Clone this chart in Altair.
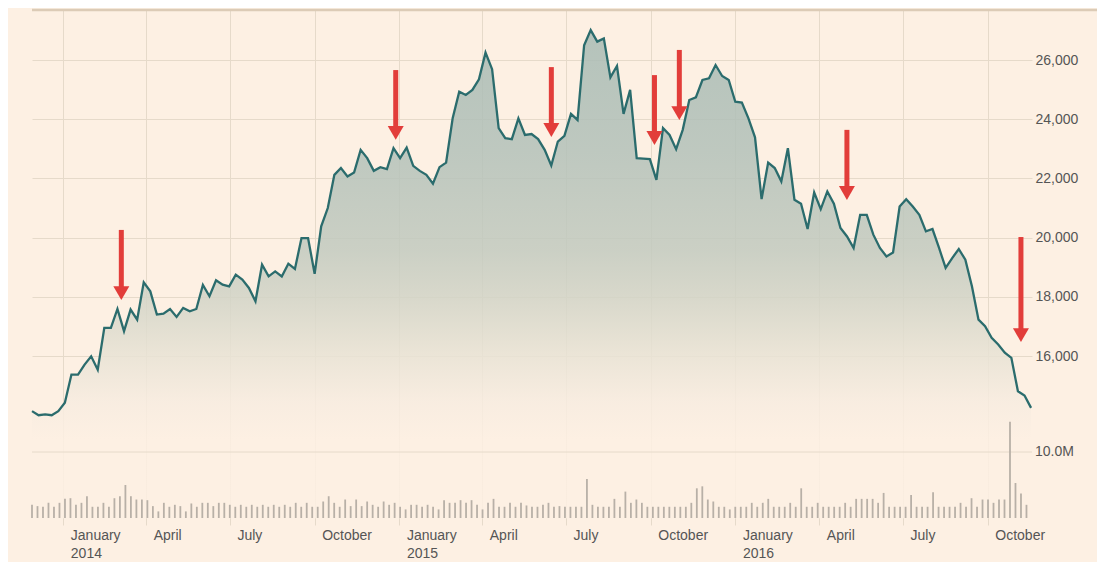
import altair as alt
import pandas as pd

# ---------------- data ----------------
prices = [14140, 14000, 14030, 14000, 14140, 14420, 15375, 15375, 15710, 15990,
          15540, 16950, 16950, 17590, 16840, 17570, 17230, 18490, 18185, 17400,
          17430, 17590, 17320, 17625, 17510, 17590, 18400, 18020, 18560, 18410,
          18355, 18750, 18580, 18300, 17850, 19085, 18690, 18860, 18690, 19120,
          18940, 19985, 19985, 18780, 20380, 21000, 22120, 22350, 22065, 22200,
          22965, 22685, 22255, 22380, 22315, 23020, 22685, 23040, 22425, 22255,
          22120, 21820, 22380, 22535, 24030, 24930, 24820, 24990, 25350, 26250,
          25690, 23700, 23360, 23325, 24030, 23470, 23500, 23330, 22965, 22435,
          23245, 23435, 24180, 23975, 26500, 27010, 26620, 26730, 25415, 25800,
          24180, 24990, 22685, 22670, 22650, 21950, 23700, 23470, 22990, 23640,
          24650, 24740, 25325, 25380, 25830, 25460, 25325, 24590, 24560, 24030,
          23390, 21300, 22535, 22350, 21900, 23020, 21280, 21145, 20290, 21525,
          20965, 21560, 21145, 20325, 20040, 19650, 20770, 20770, 20100, 19650,
          19365, 19500, 21050, 21300, 21050, 20770, 20210, 20290, 19650, 18975,
          19310, 19615, 19255, 18355, 17230, 17005, 16615, 16390, 16110, 15940,
          14810, 14665, 14250]

volumes_m = [2.0, 1.8, 1.7, 2.3, 1.7, 2.3, 2.9, 3.0, 2.0, 2.3, 3.3, 1.7, 1.7, 2.3, 1.7,
             3.0, 3.3, 5.0, 3.3, 2.8, 2.8, 2.7, 1.8, 1.0, 2.3, 1.7, 2.0, 1.8, 1.0, 2.2,
             1.7, 2.3, 2.3, 1.8, 2.3, 2.3, 2.0, 1.7, 2.0, 1.7, 2.0, 1.7, 2.0, 1.7, 2.0,
             1.7, 2.0, 1.7, 2.3, 1.7, 2.3, 1.7, 1.7, 2.5, 3.3, 2.3, 1.7, 2.8, 1.8, 2.8,
             1.8, 2.5, 2.0, 1.7, 2.5, 2.0,
             2.3, 1.7, 1.3, 2.0, 2.0, 1.7, 2.0, 1.7, 1.3, 2.7, 2.3, 2.3, 2.7, 2.3, 2.7,
             2.0, 1.3, 2.3, 2.9, 1.7, 1.7, 2.3, 1.7, 2.3, 1.9, 1.7, 1.7, 2.0, 2.3, 1.7,
             1.8, 1.7, 1.7, 1.7, 1.7, 5.9, 2.0, 1.7, 1.7, 1.7, 2.9, 1.7, 4.0, 2.3, 2.8,
             2.3, 1.7, 1.7, 1.7, 1.7, 1.7, 1.7, 1.7, 1.7, 2.3, 4.5, 4.8, 2.8, 2.5, 1.7,
             1.7, 1.3, 1.7, 1.7,
             1.7, 2.3, 1.7, 2.3, 2.9, 1.7, 1.7, 1.7, 2.3, 1.7, 4.5, 1.7, 1.7, 2.3, 1.7,
             1.7, 1.7, 1.7, 2.3, 1.7, 2.9, 2.9, 2.9, 2.9, 2.3, 3.8, 1.7, 1.7, 1.7, 1.7,
             3.5, 1.7, 1.7, 1.7, 3.9, 1.7, 1.7, 1.7, 1.7, 2.3, 1.7, 3.0, 1.7, 2.8, 2.8,
             2.3, 2.8, 2.8, 14.6, 5.3, 3.7, 2.0]

price_start, price_end = "2013-11-28", "2016-11-17"
vol_start, vol_end = "2013-11-28", "2016-11-12"

quarter_ticks = [(2014, 1), (2014, 4), (2014, 7), (2014, 10),
                 (2015, 1), (2015, 4), (2015, 7), (2015, 10),
                 (2016, 1), (2016, 4), (2016, 7), (2016, 10)]
price_ticks = [16000, 18000, 20000, 22000, 24000, 26000]
price_range = [10529, 27689]
vol_range = [0, 76.97]
vol_ticks = [10]
vol_tick_labels = ["10.0M"]

arrow_dates = ["2014-03-05", "2014-12-28", "2015-06-15", "2015-10-05",
               "2015-11-01", "2016-05-01", "2016-11-06"]
arrow_tops = [20260, 25660, 25760, 25490, 26340, 23640, 20020]
arrow_tips = [17890, 23300, 23400, 23130, 23970, 21270, 16470]

# ---------------- frames ----------------
price_df = pd.DataFrame({
    "date": pd.date_range(price_start, price_end, periods=len(prices)),
    "price": prices,
})
vol_df = pd.DataFrame({
    "date": pd.date_range(vol_start, vol_end, periods=len(volumes_m)),
    "volume": volumes_m,
})
arrow_df = pd.DataFrame({
    "date": pd.to_datetime(arrow_dates),
    "top": arrow_tops,
    "tip": arrow_tips,
})
vol_tick_df = pd.DataFrame({"v": vol_ticks, "label": vol_tick_labels})

# ---------------- styling ----------------
W, H = 1000, 508
BG = "#FDF0E3"
GRID = "#E6DACA"
LINE = "#2B6C6D"
RED = "#E23D3A"
FONT = "Liberation Sans"
LABEL = "#555555"

x_scale = alt.Scale(domain=[alt.DateTime(year=2013, month=11, date=28),
                            alt.DateTime(year=2016, month=11, date=18)],
                    padding=0)
x_axis = alt.Axis(
    values=[alt.DateTime(year=y, month=m, date=1) for y, m in quarter_ticks],
    grid=True, gridColor=GRID, gridWidth=1,
    ticks=True, tickColor=GRID, tickSize=7,
    domain=False,
    labelExpr="month(datum.value) == 0 ? [timeFormat(datum.value, '%B'), timeFormat(datum.value, '%Y')] : timeFormat(datum.value, '%B')",
    labelAlign="left", labelBaseline="top", labelOffset=7, labelPadding=3,
    labelFont=FONT, labelFontSize=14, labelColor=LABEL, labelLineHeight=18,
    title=None,
)
X = alt.X("date:T", scale=x_scale, axis=x_axis)

price_scale = alt.Scale(domain=price_range, zero=False, nice=False)
y_axis = alt.Axis(
    orient="right", values=price_ticks, format=",.0f",
    grid=True, gridColor=GRID, gridWidth=1,
    ticks=False, domain=False,
    labelAlign="left", labelBaseline="middle", labelPadding=3,
    labelFont=FONT, labelFontSize=14, labelColor=LABEL,
    title=None,
)

vol_scale = alt.Scale(domain=vol_range, nice=False)

fill = alt.Gradient(
    gradient="linear", x1=0, x2=0, y1=0, y2=1,
    stops=[
        alt.GradientStop(offset=0.0, color="#A8BBB4"),
        alt.GradientStop(offset=0.25, color="#B3C1B9"),
        alt.GradientStop(offset=0.45, color="#C2CABF"),
        alt.GradientStop(offset=0.55, color="#D2D4C7"),
        alt.GradientStop(offset=0.66, color="#E7E2D4"),
        alt.GradientStop(offset=0.76, color="#F7ECE0"),
        alt.GradientStop(offset=0.84, color=BG),
        alt.GradientStop(offset=1.0, color=BG),
    ],
)

# ---------------- price layers ----------------
area = alt.Chart(price_df).mark_area(fill=fill, fillOpacity=0.85, strokeWidth=0).encode(
    x=X, y=alt.Y("price:Q", scale=price_scale, axis=y_axis),
    y2=alt.datum(price_range[0]))
line = alt.Chart(price_df).mark_line(color=LINE, strokeWidth=2.3).encode(
    x=X, y=alt.Y("price:Q", scale=price_scale, axis=y_axis))
top_rule = alt.Chart(vol_tick_df).mark_rule(color="#DCCBB6", strokeWidth=2.5).encode(
    x=alt.value(0), x2=alt.value(W + 66), y=alt.value(0))
shaft = alt.Chart(arrow_df).mark_rule(color=RED, strokeWidth=5, y2Offset=-10).encode(
    x=X, y=alt.Y("top:Q", scale=price_scale, axis=y_axis), y2="tip:Q")
head = alt.Chart(arrow_df).mark_point(
    shape="triangle-down", filled=True, color=RED, opacity=1, size=256, yOffset=-7
).encode(x=X, y=alt.Y("tip:Q", scale=price_scale, axis=y_axis))
price_layer = alt.layer(area, line, top_rule, shaft, head)

# ---------------- volume layers ----------------
vol_bars = alt.Chart(vol_df).mark_bar(size=1.8, color="#B8B0A7").encode(
    x=X, y=alt.Y("volume:Q", scale=vol_scale, axis=None))
vol_grid = alt.Chart(vol_tick_df).mark_rule(color=GRID, strokeWidth=1).encode(
    y=alt.Y("v:Q", scale=vol_scale, axis=None))
vol_label = alt.Chart(vol_tick_df).mark_text(
    align="left", baseline="middle", font=FONT, fontSize=14, color=LABEL
).encode(x=alt.value(W + 3), y=alt.Y("v:Q", scale=vol_scale, axis=None), text="label:N")
vol_layer = alt.layer(vol_grid, vol_bars, vol_label)

chart = alt.layer(price_layer, vol_layer).resolve_scale(y="independent").properties(
    width=W, height=H, background=BG,
    padding={"left": 24, "top": 2, "right": 65, "bottom": 44},
    autosize=alt.AutoSizeParams(type="none"),
).configure_view(strokeWidth=0)

chart.save("out.html", embed_options={"renderer": "svg", "actions": False})
